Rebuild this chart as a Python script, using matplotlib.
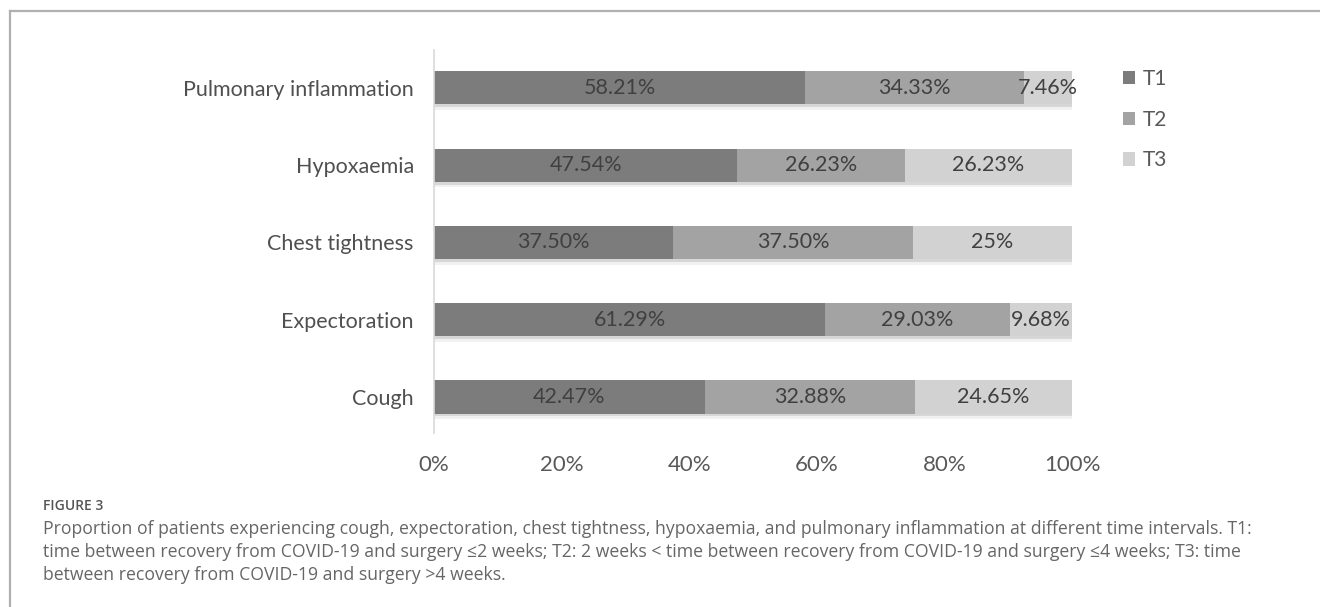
import matplotlib
matplotlib.use("Agg")
import matplotlib.pyplot as plt
import matplotlib.patheffects as pe
from matplotlib.lines import Line2D
from matplotlib.patches import Patch
import numpy as np

plt.rcParams["font.family"] = ["Lato", "DejaVu Sans"]

# ── Data ─────────────────────────────────────────────────────────────────────
symptoms = ["Cough", "Expectoration", "Chest tightness", "Hypoxaemia", "Pulmonary inflammation"]
t1 = [42.47, 61.29, 37.50, 47.54, 58.21]
t2 = [32.88, 29.03, 37.50, 26.23, 34.33]
t3 = [24.65, 9.68, 25.00, 26.23, 7.46]
t1_lbl = ["42.47%", "61.29%", "37.50%", "47.54%", "58.21%"]
t2_lbl = ["32.88%", "29.03%", "37.50%", "26.23%", "34.33%"]
t3_lbl = ["24.65%", "9.68%", "25%", "26.23%", "7.46%"]
series = ["T1", "T2", "T3"]
xticks = [0, 20, 40, 60, 80, 100]

COLORS = ["#7c7c7c", "#a3a3a3", "#d2d2d2"]
TXT = "#404040"
CAP_FONT = ["Open Sans", "DejaVu Sans"]

fig = plt.figure(figsize=(13.2, 6.07), dpi=100)
ax = fig.add_axes([434 / 1320, 1 - 433 / 607, (1072 - 434) / 1320, (433 - 50) / 607])

y = np.arange(len(symptoms))
# soft drop shadow under the bars (Excel style)
shadow = [pe.SimplePatchShadow(offset=(0, -4), shadow_rgbFace="#777777", alpha=0.1),
          pe.SimplePatchShadow(offset=(0, -2), shadow_rgbFace="#666666", alpha=0.18),
          pe.Normal()]
left = np.zeros(len(symptoms))
for vals, lbls, color in zip([t1, t2, t3], [t1_lbl, t2_lbl, t3_lbl], COLORS):
    bars = ax.barh(y, vals, left=left, height=0.43, color=color, edgecolor="none")
    for b in bars:
        b.set_path_effects(shadow)
    for yi, l, v, lab in zip(y, left, vals, lbls):
        ax.text(l + v / 2, yi, lab, ha="center", va="center", fontsize=15.5, color=TXT)
    left = left + np.array(vals)

ax.set_xlim(0, 100)
ax.set_ylim(-0.466, 4.49)
ax.set_yticks(y)
ax.set_yticklabels(symptoms, fontsize=15.5, color="#505050")
ax.set_xticks(xticks)
ax.set_xticklabels([f"{v}%" for v in xticks], fontsize=16, color="#595959")
ax.tick_params(axis="both", length=0)
ax.tick_params(axis="y", pad=14.5)
ax.tick_params(axis="x", pad=15.5)
ax.spines[["top", "right", "bottom"]].set_visible(False)
ax.spines["left"].set_color("#d9d9d9")
ax.spines["left"].set_linewidth(1.2)

handles = [Patch(facecolor=c, edgecolor="none") for c in COLORS]
ax.legend(handles, series, loc="upper left", bbox_to_anchor=(1104 / 1320, 1 - 50 / 607),
          bbox_transform=fig.transFigure, frameon=False, fontsize=15, labelcolor="#595959",
          handlelength=0.6, handleheight=0.6, handletextpad=0.35, labelspacing=1.0)

# frame lines around the figure panel
fig.add_artist(Line2D([10 / 1320, 1], [1 - 11 / 607, 1 - 11 / 607], color="#b0b0b0", lw=1.6))
fig.add_artist(Line2D([10 / 1320, 10 / 1320], [0, 1 - 11 / 607], color="#b0b0b0", lw=1.6))

# caption
fig.text(43 / 1320, 1 - 506 / 607, "FIGURE 3", fontsize=10, color="#555555", va="center",
         family=CAP_FONT, fontweight="semibold")
caption = [
    "Proportion of patients experiencing cough, expectoration, chest tightness, hypoxaemia, and pulmonary inflammation at different time intervals. T1:",
    "time between recovery from COVID-19 and surgery \u22642 weeks; T2: 2 weeks < time between recovery from COVID-19 and surgery \u22644 weeks; T3: time",
    "between recovery from COVID-19 and surgery >4 weeks.",
]
cap_texts = [fig.text(43 / 1320, 1 - (529 + 23 * i) / 607, line, fontsize=12.3, color="#666666",
                      va="center", family=CAP_FONT) for i, line in enumerate(caption)]

# size the caption so its first line runs to the same right edge as the original
fig.canvas.draw()
w = cap_texts[0].get_window_extent().width
size = 12.3 * (1262 - 43) / w
for t in cap_texts:
    t.set_fontsize(size)

fig.savefig("out.png", dpi=100)
